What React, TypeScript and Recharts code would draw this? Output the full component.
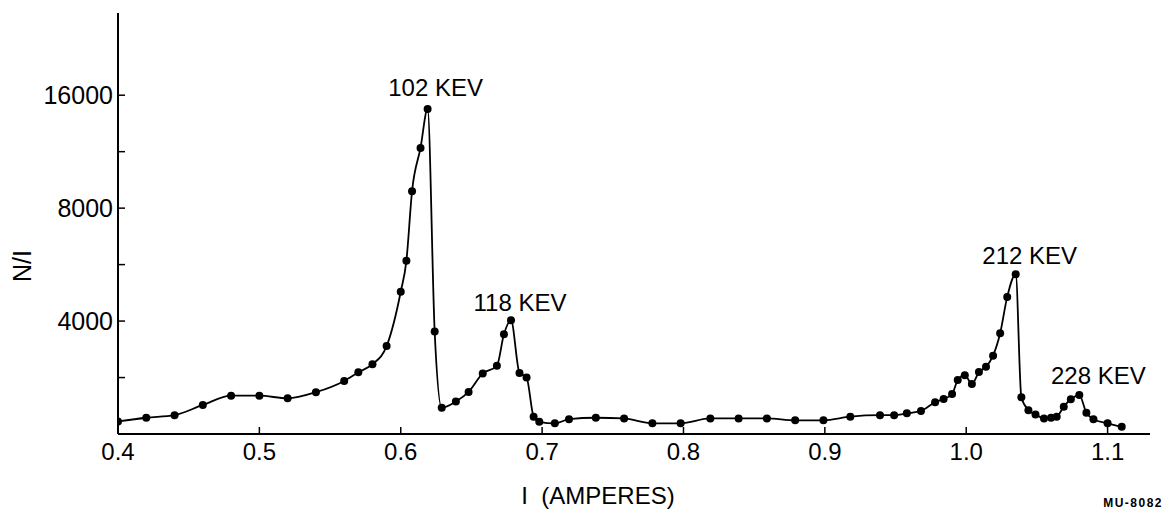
import React from 'react';
import { LineChart, Line, XAxis, YAxis, ReferenceDot } from 'recharts';

// I (amperes)
const currents = [
  0.40, 0.42, 0.44, 0.46, 0.48, 0.50, 0.52, 0.54, 0.56, 0.57,
  0.58, 0.59, 0.60, 0.604, 0.608, 0.614, 0.619, 0.624, 0.629, 0.639,
  0.648, 0.658, 0.668, 0.673, 0.678, 0.684, 0.689, 0.694, 0.698, 0.709,
  0.719, 0.738, 0.758, 0.778, 0.798, 0.819, 0.839, 0.859, 0.879, 0.899,
  0.918, 0.939, 0.949, 0.958, 0.968, 0.978, 0.984, 0.990, 0.994, 0.999,
  1.004, 1.009, 1.014, 1.019, 1.024, 1.029, 1.035, 1.039, 1.044, 1.049,
  1.055, 1.060, 1.064, 1.069, 1.074, 1.080, 1.085, 1.090, 1.100, 1.110,
];

// N/I
const counts = [
  2160, 2210, 2245, 2390, 2530, 2530, 2490, 2585, 2770, 2920,
  3070, 3430, 4790, 5790, 8880, 11580, 14690, 3750, 2350, 2440,
  2590, 2900, 3040, 3690, 4020, 2910, 2830, 2225, 2155, 2135,
  2190, 2210, 2200, 2135, 2135, 2200, 2200, 2200, 2175, 2175,
  2225, 2245, 2245, 2270, 2305, 2430, 2480, 2555, 2785, 2870,
  2720, 2925, 3020, 3235, 3710, 4640, 5330, 2505, 2315, 2255,
  2200, 2210, 2225, 2365, 2475, 2540, 2280, 2190, 2135, 2090,
];

const xTicks = [0.4, 0.5, 0.6, 0.7, 0.8, 0.9, 1.0, 1.1];
const xTickLabels = ['0.4', '0.5', '0.6', '0.7', '0.8', '0.9', '1.0', '1.1'];
const yTicks = [2000, 2828, 4000, 5657, 8000, 11314, 16000];
const yLabelled = [4000, 8000, 16000];

const peakNames = ['102 KEV', '118 KEV', '212 KEV', '228 KEV'];
const peakCurrents = [0.619, 0.678, 1.035, 1.080];
const peakCounts = [14690, 4020, 5330, 2540];
const peakDx = [8, 9, 14, 19];
const peakDy = [-13, -9, -10, -11];

const data = currents.map((c, i) => ({ i: c, n: counts[i] }));

const FONT = '"Liberation Sans", Arial, sans-serif';

const XTick = (props: any) => {
  const { x, y, payload } = props;
  const idx = xTicks.indexOf(payload.value);
  return (
    <g>
      {payload.value !== 0.4 && <line x1={x} y1={y} x2={x} y2={y - 7} stroke="#000" strokeWidth={1.5} />}
      <text x={x} y={y + 26} textAnchor="middle" fontSize={24} fontFamily={FONT} fill="#000">
        {idx >= 0 ? xTickLabels[idx] : String(payload.value)}
      </text>
    </g>
  );
};

const YTick = (props: any) => {
  const { x, y, payload } = props;
  const show = yLabelled.includes(payload.value);
  if (payload.value === 2000) return <g />;
  return (
    <g>
      <line x1={x} y1={y} x2={x + 7} y2={y} stroke="#000" strokeWidth={1.5} />
      {show && (
        <text x={x - 5} y={y + 9} textAnchor="end" fontSize={25} fontFamily={FONT} fill="#000">
          {payload.value}
        </text>
      )}
    </g>
  );
};

export default function App() {
  return (
    <div style={{ position: 'absolute', left: 0, top: 0, width: 1169, height: 511, background: '#fff' }}>
      <LineChart width={1169} height={511} data={data} margin={{ top: 13, right: 19, bottom: 0, left: 0 }}>
        <XAxis
          dataKey="i"
          type="number"
          domain={[0.4, 1.13]}
          allowDataOverflow
          ticks={xTicks}
          interval={0}
          height={77}
          tickSize={0}
          tickMargin={0}
          tick={<XTick />}
          axisLine={{ stroke: '#000', strokeWidth: 2 }}
          tickLine={false}
          label={{
            content: (p: any) => {
              const vb = p.viewBox;
              return (
                <text x={vb.x + vb.width / 2 - 36} y={vb.y + 70} textAnchor="middle" fontSize={24} fontFamily={FONT} fill="#000">
                  {'I\u00A0\u00A0(AMPERES)'}
                </text>
              );
            },
          }}
        />
        <YAxis
          dataKey="n"
          type="number"
          scale="log"
          domain={[2000, 26500]}
          allowDataOverflow
          ticks={yTicks}
          interval={0}
          width={118}
          tickSize={0}
          tickMargin={0}
          tick={<YTick />}
          axisLine={{ stroke: '#000', strokeWidth: 2 }}
          tickLine={false}
          label={{
            content: () => (
              <text x={31} y={266} transform="rotate(-90 31 266)" textAnchor="middle" fontSize={25} fontFamily={FONT} fill="#000">
                N/I
              </text>
            ),
          }}
        />
        <Line
          type="monotone"
          dataKey="n"
          stroke="#000"
          strokeWidth={1.8}
          dot={{ r: 4, fill: '#000', stroke: '#000', strokeWidth: 0 }}
          activeDot={false}
          isAnimationActive={false}
        />
        {peakNames.map((name, k) => (
          <ReferenceDot
            key={name}
            x={peakCurrents[k]}
            y={peakCounts[k]}
            r={1}
            fill="none"
            stroke="none"
            ifOverflow="visible"
            label={{
              content: (p: any) => {
                const vb = p.viewBox;
                const cx = vb.x + vb.width / 2;
                const cy = vb.y + vb.height / 2;
                return (
                  <text x={cx + peakDx[k]} y={cy + peakDy[k]} textAnchor="middle" fontSize={24} fontFamily={FONT} fill="#000">
                    {name}
                  </text>
                );
              },
            }}
          />
        ))}
      </LineChart>
      <div
        style={{
          position: 'absolute',
          right: 6,
          top: 496,
          fontFamily: FONT,
          fontWeight: 'bold',
          fontSize: 12,
          letterSpacing: 1.5,
          color: '#000',
        }}
      >
        MU-8082
      </div>
    </div>
  );
}
